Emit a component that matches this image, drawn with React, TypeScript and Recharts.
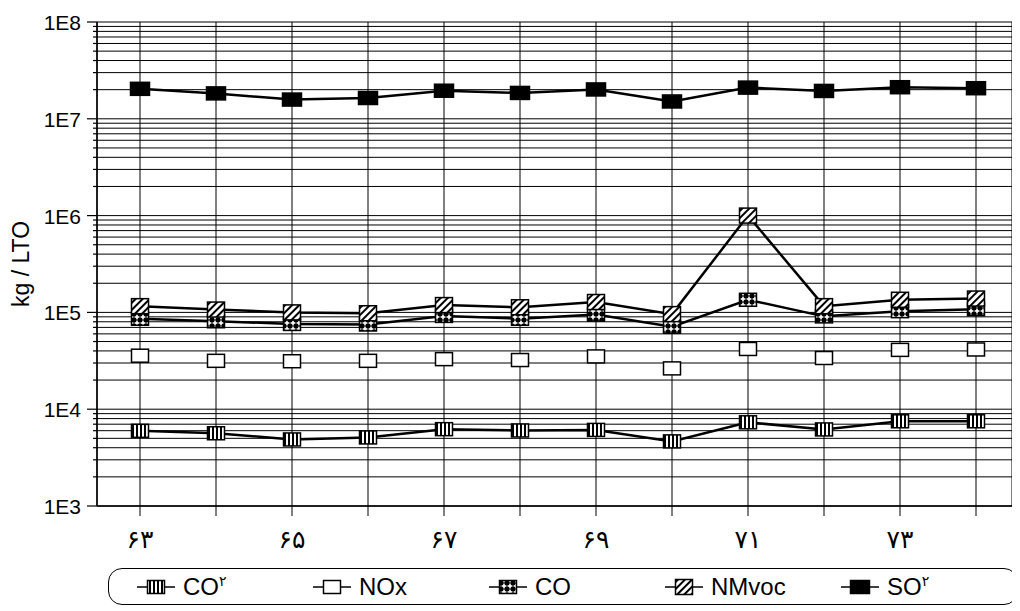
import React from "react";
import { LineChart, Line, XAxis, YAxis, CartesianGrid } from "recharts";

// Years (Persian digits) and emissions in kg / LTO.
const YEARS = ["۶۳", "۶۴", "۶۵", "۶۶", "۶۷", "۶۸", "۶۹", "۷۰", "۷۱", "۷۲", "۷۳", "۷۴"];
const CO2 = [5980, 5640, 4870, 5110, 6220, 6030, 6110, 4650, 7320, 6180, 7500, 7500];
const NOX = [35700, 31600, 31300, 31600, 32900, 32200, 35100, 26400, 41900, 33800, 41000, 41400];
const CO = [86000, 81000, 76000, 75000, 92000, 86000, 95000, 71000, 135000, 91000, 103000, 108000];
const NMVOC = [116000, 107000, 100000, 98000, 119000, 113000, 128000, 96000, 1000000, 116000, 135000, 139000];
const SO2 = [2.04e7, 1.83e7, 1.58e7, 1.64e7, 1.95e7, 1.85e7, 2.01e7, 1.51e7, 2.1e7, 1.94e7, 2.12e7, 2.07e7];

const DECADES = [1e3, 1e4, 1e5, 1e6, 1e7, 1e8];
const DECADE_LABELS = ["1E3", "1E4", "1E5", "1E6", "1E7", "1E8"];
const MULTS = [1, 2, 3, 4, 5, 6, 7, 8, 9];
// every log minor line 1..9 × decade, up to 1E8
const Y_TICKS = DECADES.slice(0, -1).flatMap((d) => MULTS.map((m) => m * d)).concat([1e8]);

const data = YEARS.map((y, i) => ({
  year: y, co2: CO2[i], nox: NOX[i], co: CO[i], nmvoc: NMVOC[i], so2: SO2[i],
}));

type Kind = "co2" | "nox" | "co" | "nmvoc" | "so2";
const FILL: Record<Kind, string> = {
  co2: "url(#pCO2)", nox: "#fff", co: "url(#pCO)", nmvoc: "url(#pNM)", so2: "#000",
};

const Marker = ({ cx, cy, kind }: { cx: number; cy: number; kind: Kind }) => {
  const w = kind === "so2" ? 19 : 17;
  const h = kind === "nmvoc" ? 15 : 13;
  return <rect x={cx - w / 2} y={cy - h / 2} width={w} height={h} fill={FILL[kind]} stroke="#000" strokeWidth={1.5} />;
};

const dotFor = (kind: Kind) => (p: any) =>
  <Marker key={`${kind}-${p.index}`} cx={p.cx} cy={p.cy} kind={kind} />;

const YTick = (p: any) => {
  const v = p.payload.value;
  const di = DECADES.findIndex((d) => Math.abs(d - v) < d * 1e-6);
  const isDec = di >= 0;
  return (
    <g>
      <line x1={p.x - (isDec ? 10 : 4)} x2={p.x} y1={p.y} y2={p.y} stroke="#000" strokeWidth={1.2} />
      {isDec && (
        <text x={p.x - 16} y={p.y} dy={8} textAnchor="end" fontSize={21} fontFamily="Liberation Sans, Arial" fill="#000">
          {DECADE_LABELS[di]}
        </text>
      )}
    </g>
  );
};

const LEGEND: { kind: Kind; name: string; sup?: string }[] = [
  { kind: "co2", name: "CO", sup: "۲" },
  { kind: "nox", name: "NOx" },
  { kind: "co", name: "CO" },
  { kind: "nmvoc", name: "NMvoc" },
  { kind: "so2", name: "SO", sup: "۲" },
];

export default function App() {
  return (
    <div style={{ width: 1010, fontFamily: "Liberation Sans, Arial" }}>
      <LineChart width={1010} height={550} data={data} margin={{ top: 14, right: 6, left: 19, bottom: 12 }}>
        <defs>
          <pattern id="pCO2" width={4} height={4} patternUnits="userSpaceOnUse">
            <rect width={4} height={4} fill="#fff" />
            <rect width={2} height={4} fill="#000" />
          </pattern>
          <pattern id="pNM" width={5} height={5} patternUnits="userSpaceOnUse" patternTransform="rotate(45)">
            <rect width={5} height={5} fill="#fff" />
            <rect width={2} height={5} fill="#000" />
          </pattern>
          <pattern id="pCO" width={6} height={6} patternUnits="userSpaceOnUse">
            <rect width={6} height={6} fill="#000" />
            <rect x={2.2} y={0.6} width={1.6} height={4.8} fill="#fff" />
            <rect x={0.6} y={2.2} width={4.8} height={1.6} fill="#fff" />
          </pattern>
        </defs>
        <CartesianGrid stroke="#000" strokeWidth={1} />
        <XAxis
          dataKey="year"
          interval={0}
          padding={{ left: 43, right: 36 }}
          tickSize={10}
          tickMargin={14}
          height={40}
          stroke="#000"
          axisLine={{ stroke: "#000", strokeWidth: 1.5 }}
          tickLine={{ stroke: "#000" }}
          tick={{ fill: "#000", fontSize: 25, fontFamily: "DejaVu Sans" }}
          tickFormatter={(v: string, i: number) => (i % 2 === 0 ? v : "")}
        />
        <YAxis
          scale="log"
          domain={[1e3, 1e8]}
          ticks={Y_TICKS}
          interval={0}
          allowDataOverflow
          width={70}
          tickSize={0}
          tickMargin={0}
          tickLine={false}
          axisLine={{ stroke: "#000", strokeWidth: 1.5 }}
          tick={<YTick />}
          label={{ value: "kg / LTO", angle: -90, position: "insideLeft", offset: -6, fontSize: 23, fill: "#000", fontFamily: "Liberation Sans, Arial", style: { textAnchor: "middle" } }}
        />
        <YAxis yAxisId="r" orientation="right" width={0} tick={false} tickLine={false} axisLine={{ stroke: "#000", strokeWidth: 1.5 }} />
        <Line dataKey="co2" stroke="#000" strokeWidth={2.5} dot={dotFor("co2")} activeDot={false} isAnimationActive={false} />
        <Line dataKey="nox" stroke="none" strokeWidth={0} dot={dotFor("nox")} activeDot={false} isAnimationActive={false} />
        <Line dataKey="co" stroke="#000" strokeWidth={2.5} dot={dotFor("co")} activeDot={false} isAnimationActive={false} />
        <Line dataKey="nmvoc" stroke="#000" strokeWidth={2.5} dot={dotFor("nmvoc")} activeDot={false} isAnimationActive={false} />
        <Line dataKey="so2" stroke="#000" strokeWidth={2.5} dot={dotFor("so2")} activeDot={false} isAnimationActive={false} />
      </LineChart>
      <div
        style={{
          marginTop: 10, marginLeft: 100, width: 910, height: 37, border: "1.5px solid #000",
          borderRadius: 14, display: "flex", alignItems: "center", paddingLeft: 28, boxSizing: "border-box",
        }}
      >
        {LEGEND.map((l) => (
          <div key={l.kind} style={{ width: 188, display: "flex", alignItems: "center", gap: 8 }}>
            <svg width={38} height={20}>
              <line x1={0} x2={38} y1={10} y2={10} stroke="#000" strokeWidth={1.5} />
              <Marker cx={19} cy={10} kind={l.kind} />
            </svg>
            <span style={{ fontSize: 24, color: "#000" }}>
              {l.name}
              {l.sup && <span style={{ fontSize: 14, verticalAlign: "top", fontFamily: "DejaVu Sans" }}>{l.sup}</span>}
            </span>
          </div>
        ))}
      </div>
    </div>
  );
}
